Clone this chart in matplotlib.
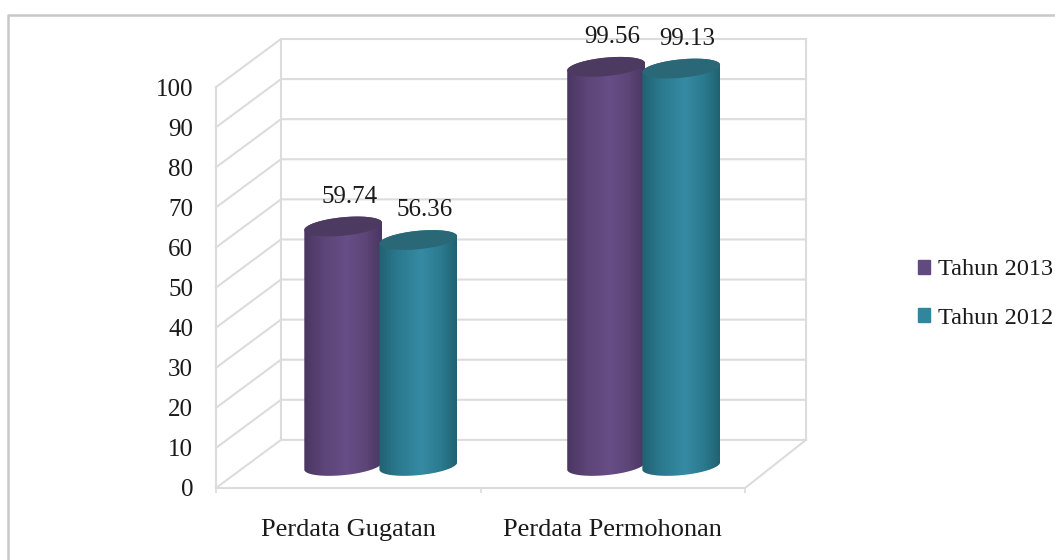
import numpy as np
import matplotlib
matplotlib.use('Agg')
import matplotlib.pyplot as plt
from matplotlib.colors import LinearSegmentedColormap
from matplotlib.lines import Line2D
from matplotlib.patches import Patch, PathPatch, Polygon
from matplotlib.path import Path

categories = ['Perdata Gugatan', 'Perdata Permohonan']
tahun_2013 = [59.74, 99.56]
tahun_2012 = [56.36, 99.13]
yticks = list(range(0, 101, 10))

plt.rcParams['font.family'] = ['Liberation Serif', 'DejaVu Serif']
plt.rcParams['font.size'] = 18

grid_color = '#dcdcdc'
grid_lw = 1.5
depth_x, depth_y = 0.2457, 12
right_x = 2.2306
half_w, offset = 0.147, 0.142
base_y = 5.5
ell_b, ell_k = 2.3, 0.9
group_step = 0.994


def ellipse(cx, cy, t):
    return np.column_stack([cx + half_w * np.cos(t),
                            cy + ell_b * np.sin(t) + ell_k * np.cos(t)])


def cylinder(ax, cx, value, edge, soft, mid, cap):
    top_y = value + base_y
    lower = ellipse(cx, base_y, np.linspace(np.pi, 2 * np.pi, 60))
    upper = ellipse(cx, top_y, np.linspace(0, np.pi, 60))
    body = PathPatch(Path(np.vstack([lower, upper, lower[:1]])), fc='none', ec='none')
    ax.add_patch(body)
    cmap = LinearSegmentedColormap.from_list(
        'shade', [(0, edge), (0.25, soft), (0.55, mid), (0.8, soft), (1, edge)])
    img = ax.imshow(np.linspace(0, 1, 128)[None, :], cmap=cmap, aspect='auto',
                    extent=[cx - half_w, cx + half_w, 0, top_y + 5], zorder=3)
    img.set_clip_path(body)
    ax.add_patch(Polygon(ellipse(cx, top_y, np.linspace(0, 2 * np.pi, 120)),
                         fc=cap, ec='none', zorder=3))
    ax.annotate(f'{value:.2f}', (cx, top_y), xytext=(4.5, 21.5), textcoords='offset points',
                ha='center', va='center', color='#1a1a1a', zorder=5)


fig = plt.figure(figsize=(10.55, 5.6), dpi=100)
ax = fig.add_axes([216 / 1055, 72 / 560, 590 / 1055, 449 / 560])

# walls and floor of the 3d box
for v in yticks:
    ax.plot([0, depth_x, right_x], [v, v + depth_y, v + depth_y],
            color=grid_color, lw=grid_lw, zorder=1, clip_on=False)
ax.plot([0, 0], [0, 100], color=grid_color, lw=grid_lw, zorder=1, clip_on=False)
ax.plot([depth_x, depth_x], [depth_y, 100 + depth_y], color=grid_color, lw=grid_lw, zorder=1, clip_on=False)
ax.plot([right_x, right_x], [depth_y, 100 + depth_y], color=grid_color, lw=grid_lw, zorder=1, clip_on=False)
ax.plot([0, 2, right_x], [0, 0, depth_y], color=grid_color, lw=grid_lw, zorder=1, clip_on=False)

for i in range(len(categories)):
    centre = 0.5 + depth_x / 2 + i * group_step
    cylinder(ax, centre - offset, tahun_2013[i], '#4a3661', '#5c4577', '#674e86', '#4c3a60')
    cylinder(ax, centre + offset, tahun_2012[i], '#206272', '#2b7a8f', '#358ba3', '#2a6878')

ax.set_xlim(0, right_x)
ax.set_ylim(0, 112)
ax.set_yticks(yticks)
ax.set_xticks([0.5, 1.5])
ax.set_xticklabels(categories, fontsize=19)
ax.set_xticks([0, 1, 2], minor=True)
ax.tick_params(axis='y', length=0, pad=16.5, labelcolor='#1a1a1a')
ax.tick_params(axis='x', which='major', length=0, pad=22, labelcolor='#1a1a1a')
ax.tick_params(axis='x', which='minor', length=3.6, width=1.2, color=grid_color)
for s in ax.spines.values():
    s.set_visible(False)

handles = [Patch(color='#614a7f', label='Tahun 2013'), Patch(color='#31859c', label='Tahun 2012')]
fig.legend(handles=handles, loc='center left', bbox_to_anchor=(918 / 1055, 266 / 560),
           frameon=False, fontsize=17.5, handlelength=0.51, handleheight=0.51, handletextpad=0.33,
           labelspacing=1.14, borderpad=0, borderaxespad=0, labelcolor='#1a1a1a')

# outer chart frame, cut by the page on the right and bottom
fig.add_artist(Line2D([8 / 1055, 8 / 1055, 1], [0, 545 / 560, 545 / 560],
                      color='#c8c8c8', lw=1.8, transform=fig.transFigure))

fig.savefig('out.png', dpi=100)
